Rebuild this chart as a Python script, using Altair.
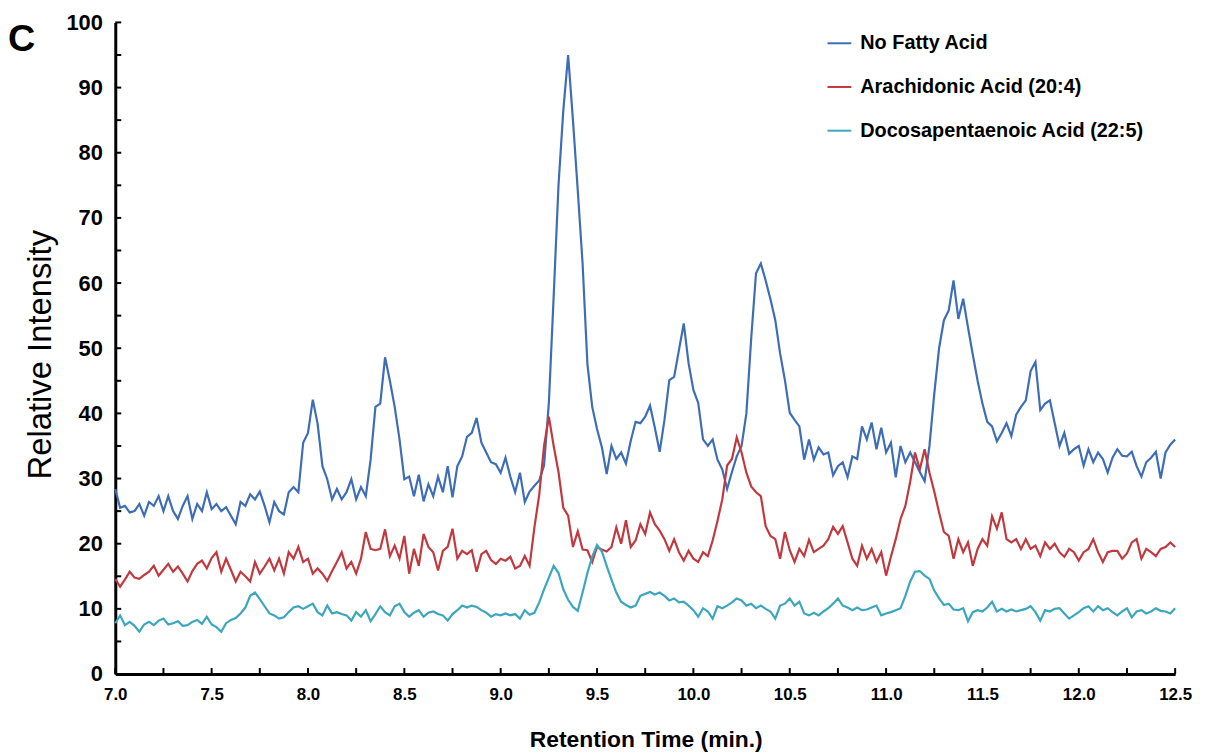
import altair as alt
import pandas as pd

# ---------------- data ----------------
T_START = 7.0
T_STEP = 0.025  # sampling interval of the traces (min)

SERIES = ["No Fatty Acid", "Arachidonic Acid (20:4)", "Docosapentaenoic Acid (22:5)"]
COLORS = ["#3E6DB7", "#C1393E", "#3BA6BC"]

NO_FA = [
    28.4, 25.5, 25.8, 24.8, 25.0, 26.1, 24.3, 26.4, 25.8, 27.3,
    25.0, 27.3, 25.0, 23.8, 25.8, 27.3, 23.8, 26.1, 25.0, 27.9,
    25.3, 26.1, 25.0, 25.6, 24.3, 23.0, 26.4, 25.8, 27.6, 26.8,
    28.0, 25.8, 23.3, 26.4, 25.0, 24.5, 27.9, 28.7, 27.9, 35.5,
    37.0, 42.1, 38.4, 31.9, 29.9, 26.8, 28.4, 26.8, 27.9, 29.9,
    26.8, 28.7, 27.3, 32.9, 41.0, 41.5, 48.6, 45.0, 41.0, 36.0,
    29.9, 30.3, 27.3, 30.6, 26.5, 29.1, 27.3, 30.3, 27.9, 31.9,
    27.1, 31.9, 33.4, 36.4, 37.0, 39.3, 35.5, 34.0, 32.5, 32.2,
    30.9, 33.2, 30.3, 27.9, 30.9, 26.4, 28.0, 28.9, 29.7, 32.0,
    41.6, 58.0, 75.0, 86.5, 95.0, 85.0, 74.2, 63.0, 47.6, 41.0,
    37.6, 34.8, 30.7, 35.0, 33.0, 34.0, 32.3, 35.8, 38.7, 38.5,
    39.5, 41.2, 37.8, 34.1, 39.0, 45.1, 45.6, 49.7, 53.8, 47.7,
    43.6, 41.6, 36.0, 35.0, 36.0, 32.9, 31.4, 28.4, 31.0, 33.4,
    35.0, 40.0, 51.5, 61.5, 63.0, 60.4, 57.5, 54.3, 49.2, 45.1,
    40.1, 39.0, 38.0, 32.9, 36.0, 32.9, 34.8, 33.7, 34.0, 30.5,
    31.9, 32.5, 30.2, 33.4, 33.0, 38.0, 36.0, 38.6, 34.5, 37.8,
    34.0, 35.5, 30.2, 35.0, 32.5, 34.0, 32.5, 31.0, 29.6, 35.0,
    43.0, 50.0, 54.3, 55.8, 60.4, 54.5, 57.6, 53.2, 49.0, 45.0,
    41.5, 38.7, 38.0, 35.7, 37.0, 38.5, 36.5, 39.8, 41.0, 42.0,
    46.5, 47.9, 40.5, 41.5, 42.0, 38.5, 35.0, 37.0, 33.8, 34.5,
    35.0, 32.0, 34.5, 32.5, 34.0, 33.0, 30.9, 33.2, 34.5, 33.5,
    33.4, 34.1, 31.9, 30.3, 32.5, 33.2, 34.1, 30.0, 34.0, 35.2,
    36.0,
]

ARA = [
    14.6, 13.4, 14.5, 15.7, 14.8, 14.6, 15.2, 15.7, 16.6, 15.1,
    16.0, 16.9, 15.7, 16.5, 15.4, 14.2, 15.8, 16.9, 17.4, 16.2,
    17.8, 18.7, 15.7, 17.7, 16.0, 14.2, 15.7, 15.0, 14.2, 17.2,
    15.4, 16.5, 17.7, 15.9, 17.7, 15.4, 18.7, 17.7, 19.5, 17.2,
    17.7, 15.4, 16.2, 15.4, 14.3, 15.8, 17.2, 18.7, 16.2, 17.2,
    15.4, 17.7, 21.8, 19.2, 19.0, 19.2, 22.2, 18.1, 19.7, 17.7,
    21.2, 15.4, 19.2, 16.6, 21.5, 19.5, 18.7, 15.9, 18.9, 19.5,
    22.3, 17.7, 18.9, 18.4, 19.0, 15.7, 18.4, 18.9, 17.5, 16.9,
    17.7, 17.4, 18.0, 16.2, 16.6, 18.1, 16.6, 22.5, 27.5, 35.0,
    39.5, 35.0, 31.0, 25.5, 24.3, 19.5, 21.9, 19.1, 19.0, 17.2,
    19.5, 19.1, 18.8, 19.5, 22.5, 20.0, 23.6, 19.5, 20.5, 23.0,
    21.5, 24.8, 23.0, 22.0, 20.7, 18.9, 20.7, 18.7, 17.4, 18.9,
    17.7, 17.2, 18.7, 18.1, 20.5, 23.5, 26.8, 32.0, 33.0, 36.3,
    34.0, 30.9, 28.8, 27.9, 27.3, 22.7, 21.2, 20.7, 17.7, 21.8,
    19.0, 17.2, 19.2, 18.1, 20.6, 18.7, 19.2, 19.7, 20.7, 22.6,
    21.5, 22.7, 20.2, 17.7, 16.6, 19.7, 17.7, 19.2, 17.2, 18.7,
    15.1, 18.0, 20.7, 23.8, 25.8, 29.5, 34.0, 31.4, 34.5, 30.9,
    28.0, 24.8, 21.8, 21.2, 17.7, 20.7, 18.7, 20.2, 16.6, 19.2,
    20.7, 19.7, 24.2, 22.3, 24.8, 20.7, 20.2, 20.7, 19.2, 20.7,
    19.2, 19.7, 18.1, 20.2, 19.2, 20.0, 18.7, 18.0, 19.2, 18.7,
    17.4, 18.7, 19.2, 20.7, 18.7, 17.2, 18.7, 18.9, 18.9, 17.7,
    18.5, 20.2, 20.7, 17.7, 19.2, 18.7, 18.1, 19.2, 19.5, 20.2,
    19.5,
]

DPA = [
    7.8, 9.0, 7.5, 8.0, 7.4, 6.5, 7.6, 8.0, 7.5, 8.2,
    8.5, 7.6, 7.8, 8.1, 7.4, 7.5, 8.0, 8.3, 7.7, 8.8,
    7.6, 7.2, 6.5, 7.8, 8.3, 8.6, 9.3, 10.2, 12.0, 12.5,
    11.5, 10.4, 9.3, 9.0, 8.5, 8.7, 9.5, 10.2, 10.4, 10.0,
    10.4, 10.8, 9.5, 9.0, 10.5, 9.3, 9.5, 9.2, 9.0, 8.2,
    9.5, 8.8, 9.8, 8.1, 9.2, 10.4, 9.5, 9.0, 10.4, 10.8,
    9.5, 8.8, 9.4, 9.8, 8.8, 9.4, 9.6, 9.2, 9.0, 8.2,
    9.2, 9.8, 10.5, 10.2, 10.5, 10.3, 9.8, 9.4, 8.8, 9.2,
    9.0, 9.3, 9.0, 9.2, 8.5, 9.8, 9.1, 9.4, 11.0, 13.0,
    14.8, 16.6, 15.5, 13.0, 11.4, 10.3, 9.7, 12.5, 15.5, 18.0,
    19.8, 18.8, 16.6, 14.5, 12.5, 11.1, 10.6, 10.2, 10.5, 12.0,
    12.3, 12.6, 12.2, 12.5, 12.0, 11.3, 11.6, 11.0, 11.1, 10.5,
    9.8, 8.8, 10.1, 9.6, 8.5, 10.4, 10.1, 10.5, 11.0, 11.6,
    11.3, 10.5, 10.8, 10.1, 10.5, 10.0, 9.6, 8.5, 10.5, 10.8,
    11.6, 10.5, 11.1, 9.3, 9.0, 9.4, 9.0, 9.6, 10.1, 10.8,
    11.6, 10.5, 10.2, 9.8, 10.2, 9.8, 9.9, 10.2, 10.5, 9.0,
    9.3, 9.5, 9.8, 10.1, 12.0, 14.2, 15.7, 15.8, 15.1, 14.6,
    12.8, 11.6, 10.6, 10.8, 9.9, 9.8, 10.1, 8.1, 9.5, 9.8,
    9.6, 10.2, 11.1, 9.6, 10.0, 9.6, 9.9, 9.6, 9.8, 10.0,
    10.4, 9.5, 8.2, 9.8, 9.6, 10.0, 10.1, 9.3, 8.5, 9.0,
    9.5, 10.1, 10.4, 9.6, 10.4, 9.8, 10.1, 9.5, 9.0, 9.6,
    10.1, 8.7, 9.6, 9.8, 9.3, 9.6, 10.1, 9.7, 9.6, 9.3,
    10.1,
]

X_LABELS = [7.0, 7.5, 8.0, 8.5, 9.0, 9.5, 10.0, 10.5, 11.0, 11.5, 12.0, 12.5]
X_TICKS = [7.0, 7.25, 7.5, 7.75, 8.0, 8.25, 8.5, 8.75, 9.0, 9.25, 9.5, 9.75,
           10.0, 10.25, 10.5, 10.75, 11.0, 11.25, 11.5, 11.75, 12.0, 12.25, 12.5]
Y_LABELS = [0, 10, 20, 30, 40, 50, 60, 70, 80, 90, 100]
Y_TICKS = [0, 5, 10, 15, 20, 25, 30, 35, 40, 45, 50, 55, 60, 65, 70, 75, 80, 85, 90, 95, 100]

assert len(NO_FA) == len(ARA) == len(DPA) == 221

rows = []
for name, vals in zip(SERIES, [NO_FA, ARA, DPA]):
    for i, v in enumerate(vals):
        rows.append({"t": round(T_START + i * T_STEP, 3), "v": v, "series": name})
df = pd.DataFrame(rows)

# ---------------- chart ----------------
W, H = 1067, 656
xs = alt.Scale(domain=[7.0, 12.5], nice=False, zero=False)
ys = alt.Scale(domain=[0, 100], nice=False, zero=True)

x_axis = alt.Axis(
    values=X_LABELS, format=".1f", title="Retention Time (min.)",
    ticks=False, tickSize=0, grid=False, labelPadding=13, labelFlush=False,
    labelFont="Liberation Sans", labelFontSize=17, labelFontWeight="bold",
    labelColor="black", domainColor="black", domainWidth=3,
    titleFont="Liberation Sans", titleFontSize=23, titleFontWeight="bold",
    titleColor="black", titleX=534, titleY=73, titleAlign="center",
    titleBaseline="alphabetic")

y_axis = alt.Axis(
    values=Y_LABELS, format="d", title="Relative Intensity",
    ticks=False, tickSize=0, grid=False, labelPadding=13,
    labelFont="Liberation Sans", labelFontSize=22, labelFontWeight="bold",
    labelColor="black", domainColor="black", domainWidth=3,
    titleFont="Liberation Sans", titleFontSize=33, titleFontWeight="normal",
    titleColor="black", titleAngle=270, titleX=-65, titleY=334,
    titleAlign="center", titleBaseline="alphabetic")

lines = alt.Chart(df).mark_line(strokeWidth=2.2).encode(
    x=alt.X("t:Q", scale=xs, axis=x_axis),
    y=alt.Y("v:Q", scale=ys, axis=y_axis),
    color=alt.Color("series:N", scale=alt.Scale(domain=SERIES, range=COLORS),
                    legend=alt.Legend(title=None, orient="none", legendX=716, legendY=8,
                                      symbolType="stroke", symbolSize=576,
                                      symbolStrokeWidth=2, padding=0,
                                      labelFont="Liberation Sans", labelFontSize=20,
                                      labelFontWeight="bold", labelColor="black",
                                      labelOffset=8, rowPadding=21, labelLimit=400)),
)

xticks = alt.Chart(pd.DataFrame({"t": X_TICKS})).mark_rule(color="black", strokeWidth=2).encode(
    x=alt.X("t:Q", scale=xs, axis=x_axis),
    y=alt.value(H), y2=alt.value(H - 6),
)

yticks = alt.Chart(pd.DataFrame({"v": Y_TICKS})).mark_rule(color="black", strokeWidth=2).encode(
    y=alt.Y("v:Q", scale=ys, axis=y_axis),
    x=alt.value(0), x2=alt.value(6),
)

panel = alt.Chart(pd.DataFrame({"s": ["C"]})).mark_text(
    font="Liberation Sans", fontSize=38, fontWeight="bold", color="black",
    align="left", baseline="alphabetic").encode(
    text="s:N", x=alt.value(-108), y=alt.value(29))

chart = alt.layer(lines, xticks, yticks, panel).properties(
    width=W, height=H,
    autosize=alt.AutoSizeParams(type="none"),
    padding={"left": 108, "top": 12, "right": 22, "bottom": 78},
).configure_view(stroke=None)

chart.save("out.html", embed_options={"renderer": "svg", "actions": False})
